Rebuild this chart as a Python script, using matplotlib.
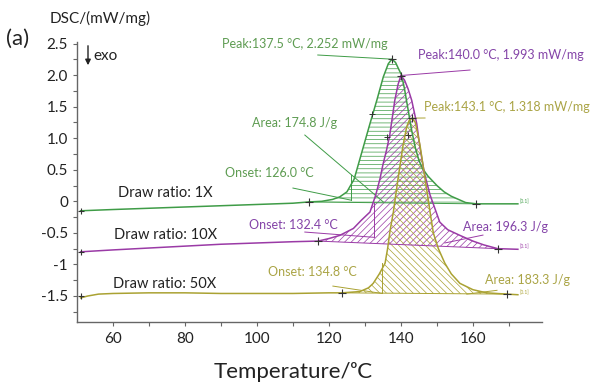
import numpy as np
import matplotlib
matplotlib.use("Agg")
import matplotlib.pyplot as plt

plt.rcParams['font.family'] = ['Lato', 'DejaVu Sans']
plt.rcParams['hatch.linewidth'] = 0.5

# ---------------- data ----------------
green_T = [51, 60, 70, 80, 90, 100, 110, 114.4, 118, 121, 123, 125, 127, 129, 131.4,
           133.3, 135.1, 136.5, 137.5, 138.5, 139.5, 140.2, 141, 142, 143, 144, 145, 146,
           147.5, 150, 152, 154, 156.4, 158, 161, 166, 172.5]
green_V = [-0.15, -0.13, -0.11, -0.09, -0.07, -0.05, -0.03, -0.01, 0.0, 0.03, 0.07, 0.15,
           0.35, 0.75, 1.23, 1.6, 1.97, 2.18, 2.252, 2.2, 2.08, 2.0, 1.78, 1.45, 1.12, 0.85,
           0.65, 0.52, 0.4, 0.25, 0.15, 0.08, 0.02, -0.02, -0.04, -0.04, -0.04]

purple_T = [51, 60, 70, 80, 90, 100, 110, 117, 120, 123, 126.8, 129, 131.4, 133, 134.2,
            135, 136, 136.9, 138.3, 139.2, 140.0, 141, 142, 143, 144.4, 145.3, 146.5,
            148.1, 150.8, 153, 156.4, 160, 163, 166.9, 172.5]
purple_V = [-0.80, -0.77, -0.74, -0.71, -0.68, -0.66, -0.64, -0.63, -0.59, -0.54, -0.43,
            -0.30, -0.17, 0.1, 0.36, 0.58, 0.81, 1.05, 1.6, 1.85, 1.993, 1.92, 1.78, 1.6,
            1.23, 0.85, 0.45, 0.1, -0.33, -0.45, -0.54, -0.63, -0.69, -0.75, -0.76]

olive_T = [51, 53, 56, 60, 70, 80, 90, 100, 110, 120, 123.6, 128.6, 131, 132.3, 134,
           135.6, 136.3, 137, 137.9, 139.2, 140.6, 141.6, 142.3, 143.1, 144, 145.3, 146.7,
           148.1, 149, 150.4, 152.2, 154, 156.4, 160, 163.8, 169.4, 172.5]
olive_V = [-1.53, -1.50, -1.47, -1.46, -1.45, -1.45, -1.46, -1.46, -1.46, -1.45, -1.45,
           -1.43, -1.37, -1.30, -1.15, -0.98, -0.75, -0.46, -0.17, 0.36, 0.89, 1.18, 1.28,
           1.318, 1.25, 0.89, 0.36, -0.17, -0.5, -0.75, -0.98, -1.15, -1.30, -1.40, -1.45,
           -1.47, -1.48]

# integration limits (left, right) and their values
green_int_T = [114.4, 161]
green_int_V = [-0.01, -0.04]
purple_int_T = [117, 166.9]
purple_int_V = [-0.63, -0.75]
olive_int_T = [123.6, 169.4]
olive_int_V = [-1.45, -1.47]

# peaks
peak_T = [137.5, 140.0, 143.1]
peak_V = [2.252, 1.993, 1.318]

# onsets
onset_T = [126.0, 132.4, 134.8]
onset_base_V = [0.02, -0.57, -1.46]
onset_top_V = [0.42, -0.03, -0.98]

# extra marks (start of curves, mid-height marks)
start_V = [-0.15, -0.80, -1.50]
mid_T = [131.9, 136.0, 142.0]
mid_V = [1.39, 1.02, 1.05]

areas = [174.8, 196.3, 183.3]
ratios = ['1X', '10X', '50X']

xticks_major = [60, 80, 100, 120, 140, 160]
yticks = [2.5, 2.0, 1.5, 1.0, 0.5, 0, -0.5, -1, -1.5]
ytick_labels = ['2.5', '2.0', '1.5', '1.0', '0.5', '0', '-0.5', '-1', '-1.5']

# ---------------- style ----------------
line_c = ['#3f9c47', '#9a3aa6', '#aaa232']
text_c = ['#5e9c52', '#8444a8', '#aaa445']
hatches = ['----', '/////', '\\\\\\\\\\']

W, H = 590, 384
fig = plt.figure(figsize=(W / 100, H / 100), dpi=100)
ax = fig.add_axes([77 / W, 1 - 322 / H, (542 - 77) / W, (322 - 42) / H])
ax.set_xlim(50, 179.2)
ax.set_ylim(-1.912, 2.524)

curves = [(green_T, green_V, green_int_T, green_int_V),
          (purple_T, purple_V, purple_int_T, purple_int_V),
          (olive_T, olive_V, olive_int_T, olive_int_V)]

for i, (T, V, iT, iV) in enumerate(curves):
    T = np.array(T)
    V = np.array(V)
    m = (T >= iT[0]) & (T <= iT[1])
    ft = T[m]
    fv = V[m]
    fb = np.interp(ft, iT, iV)
    ax.fill_between(ft, fv, fb, facecolor='none', edgecolor=line_c[i],
                    hatch=hatches[i], linewidth=0, zorder=1)
    ax.plot(iT, iV, color=line_c[i], lw=0.7, zorder=2)
    ax.plot(T, V, color=line_c[i], lw=1.1, zorder=3)
    ax.plot([T[0]], [start_V[i]], marker='+', color='#333333', ms=5, mew=0.8, zorder=4)
    ax.plot(iT, iV, ls='none', marker='+', color='#333333', ms=6, mew=0.8, zorder=4)
    ax.plot([peak_T[i]], [peak_V[i]], marker='+', color='#333333', ms=6, mew=0.8, zorder=4)
    ax.plot([mid_T[i]], [mid_V[i]], marker='+', color='#333333', ms=5, mew=0.7, zorder=4)
    # onset construction
    ax.plot([onset_T[i], onset_T[i]], [onset_base_V[i], onset_top_V[i]],
            color=line_c[i], lw=0.7, zorder=2)
    ax.text(T[-1] + 0.5, V[-1] + 0.04, '[0.1]', color=line_c[i], fontsize=3.5,
            ha='left', va='center')

ann_fs = 9
# peak annotations
ax.text(90.3, 2.49, 'Peak:137.5 °C, 2.252 mW/mg', color=text_c[0], fontsize=ann_fs,
        va='center', ha='left', clip_on=False)
ax.plot([116.9, peak_T[0]], [2.318, peak_V[0]], color=line_c[0], lw=0.7)
ax.text(144.7, 2.318, 'Peak:140.0 °C, 1.993 mW/mg', color=text_c[1], fontsize=ann_fs,
        va='center', ha='left', clip_on=False)
ax.plot([159.2, peak_T[1]], [2.08, peak_V[1]], color=line_c[1], lw=0.7)
ax.text(146.4, 1.494, 'Peak:143.1 °C, 1.318 mW/mg', color=text_c[2], fontsize=ann_fs,
        va='center', ha='left', clip_on=False)
ax.plot([146.7, peak_T[2]], [1.32, peak_V[2]], color=line_c[2], lw=0.7)

# area annotations
ax.text(98.6, 1.24, f'Area: {areas[0]} J/g', color=text_c[0], fontsize=ann_fs,
        va='center', ha='left')
ax.plot([113.3, 135.1], [1.05, -0.01], color=line_c[0], lw=0.7)
ax.text(157.2, -0.41, f'Area: {areas[1]} J/g', color=text_c[1], fontsize=ann_fs,
        va='center', ha='left', clip_on=False)
ax.plot([162.8, 152.2], [-0.535, -0.66], color=line_c[1], lw=0.7)
ax.text(163.3, -1.25, f'Area: {areas[2]} J/g', color=text_c[2], fontsize=ann_fs,
        va='center', ha='left', clip_on=False)
ax.plot([166.7, 158.3], [-1.41, -1.47], color=line_c[2], lw=0.7)

# onset annotations
ax.text(91.1, 0.448, f'Onset: {onset_T[0]} °C', color=text_c[0], fontsize=ann_fs,
        va='center', ha='left')
ax.plot([110.0, onset_T[0]], [0.21, onset_base_V[0]], color=line_c[0], lw=0.7)
ax.text(97.8, -0.376, f'Onset: {onset_T[1]} °C', color=text_c[1], fontsize=ann_fs,
        va='center', ha='left')
ax.plot([113.3, onset_T[1]], [-0.487, onset_base_V[1]], color=line_c[1], lw=0.7)
ax.text(103.1, -1.12, f'Onset: {onset_T[2]} °C', color=text_c[2], fontsize=ann_fs,
        va='center', ha='left')
ax.plot([121.1, onset_T[2]], [-1.343, onset_base_V[2]], color=line_c[2], lw=0.7)

# draw ratio labels
ax.text(61.4, 0.131, f'Draw ratio: {ratios[0]}', color='#222222', fontsize=10.5,
        va='center', ha='left')
ax.text(60.3, -0.535, f'Draw ratio: {ratios[1]}', color='#222222', fontsize=10.5,
        va='center', ha='left')
ax.text(60.0, -1.31, f'Draw ratio: {ratios[2]}', color='#222222', fontsize=10.5,
        va='center', ha='left')

# axes styling
for s in ['top', 'right']:
    ax.spines[s].set_visible(False)
for s in ['left', 'bottom']:
    ax.spines[s].set_color('#666666')
    ax.spines[s].set_linewidth(1.0)
ax.set_xticks(xticks_major)
ax.set_xticks([70, 90, 110, 130, 150, 170], minor=True)
ax.set_yticks(yticks)
ax.set_yticklabels(ytick_labels)
ax.set_yticks([2.25, 1.75, 1.25, 0.75, 0.25, -0.25, -0.75, -1.25, -1.75], minor=True)
ax.tick_params(which='both', direction='out', length=3, width=0.8, color='#666666',
               labelsize=11, labelcolor='#222222')
ax.tick_params(axis='x', pad=4)

fig.text(293 / W, 1 - 372 / H, 'Temperature/ᵒC', fontsize=16, ha='center', va='center',
         color='#222222')
fig.text(50 / W, 1 - 18 / H, 'DSC/(mW/mg)', fontsize=11, ha='left', va='center',
         color='#222222')
fig.text(6 / W, 1 - 39 / H, '(a)', fontsize=16, ha='left', va='center', color='#222222')
fig.text(93 / W, 1 - 56 / H, 'exo', fontsize=11, ha='left', va='center', color='#222222')
fig.add_artist(matplotlib.patches.FancyArrowPatch(
    (88 / W, 1 - 43 / H), (88 / W, 1 - 68 / H), transform=fig.transFigure,
    arrowstyle='-|>', mutation_scale=8, color='#222222', lw=1.0))

fig.savefig('out.png', dpi=100)
